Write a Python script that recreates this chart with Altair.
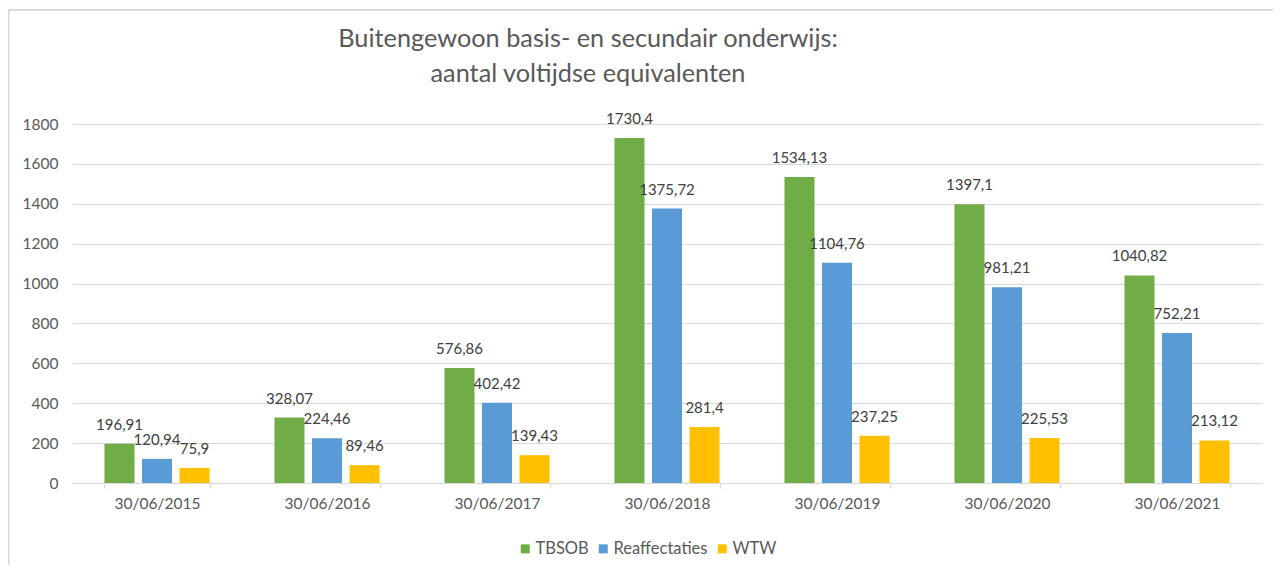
import altair as alt
import pandas as pd

dates = ["30/06/2015", "30/06/2016", "30/06/2017", "30/06/2018",
         "30/06/2019", "30/06/2020", "30/06/2021"]
series = ["TBSOB", "Reaffectaties", "WTW"]
tbsob = [196.91, 328.07, 576.86, 1730.4, 1534.13, 1397.1, 1040.82]
reaff = [120.94, 224.46, 402.42, 1375.72, 1104.76, 981.21, 752.21]
wtw = [75.9, 89.46, 139.43, 281.4, 237.25, 225.53, 213.12]
colors = ["#70AD47", "#5B9BD5", "#FFC000"]
y_ticks = [0, 200, 400, 600, 800, 1000, 1200, 1400, 1600, 1800]
title_lines = ["Buitengewoon basis- en secundair onderwijs:",
               "aantal voltijdse equivalenten"]

rows = []
for i, d in enumerate(dates):
    for s, vals in zip(series, [tbsob, reaff, wtw]):
        v = vals[i]
        rows.append({"date": d, "series": s, "value": v,
                     "label": str(v).replace(".", ",")})
df = pd.DataFrame(rows)

FONT = "Lato"
GRAY = "#595959"

x_enc = alt.X("date:N", sort=dates,
              scale=alt.Scale(paddingInner=0.382, paddingOuter=0.191),
              axis=alt.Axis(title=None, labelAngle=0, tickBand="extent",
                            domainColor="#d9d9d9", domainWidth=1,
                            tickColor="#d9d9d9", tickSize=5,
                            labelPadding=8, labelFontSize=15.5,
                            labelColor=GRAY, labelFont=FONT, grid=False))
xo_enc = alt.XOffset("series:N", sort=series,
                     scale=alt.Scale(paddingInner=0.2, paddingOuter=0))
y_enc = alt.Y("value:Q",
              scale=alt.Scale(domain=[0, 1800], nice=False),
              axis=alt.Axis(values=y_ticks, format="d", labelOverlap=False,
                            title=None, domain=False,
                            ticks=False, gridColor="#d9d9d9", gridWidth=1,
                            labelPadding=14, labelFontSize=15.5,
                            labelColor=GRAY, labelFont=FONT))

base = alt.Chart(df)

bars = base.mark_bar().encode(
    x=x_enc, xOffset=xo_enc, y=y_enc,
    color=alt.Color("series:N", sort=series,
                    scale=alt.Scale(domain=series, range=colors),
                    legend=alt.Legend(title=None, orient="none",
                                      direction="horizontal",
                                      legendX=445, legendY=416.5,
                                      symbolType="square", symbolSize=81,
                                      symbolStrokeWidth=0,
                                      labelFontSize=16.5, labelColor=GRAY,
                                      labelFont=FONT, labelOffset=2,
                                      columnPadding=6, padding=0)),
)

labels = base.mark_text(baseline="middle", align="center", dy=-19,
                        fontSize=15, color="#404040", font=FONT).encode(
    x=x_enc, xOffset=xo_enc, y=y_enc, text="label:N")

border_df = pd.DataFrame({"k": [0]})
left_border = alt.Chart(border_df).mark_rule(color="#d9d9d9", strokeWidth=2).encode(
    x=alt.value(-63.5), y=alt.value(-114), y2=alt.value(449))
top_border = alt.Chart(border_df).mark_rule(color="#d9d9d9", strokeWidth=2).encode(
    x=alt.value(-64.5), x2=alt.value(1209), y=alt.value(-114))

chart = alt.layer(bars, labels, left_border, top_border).properties(
    width=1190, height=359,
    title=alt.TitleParams(text=title_lines, font=FONT, fontSize=25.3,
                          fontWeight="normal", color=GRAY, lineHeight=35,
                          anchor="middle", frame="group", dx=-79,
                          offset=0, dy=78),
    autosize=alt.AutoSizeParams(type="none"),
    padding={"left": 64, "top": 116, "right": 11, "bottom": 82},
).configure(font=FONT).configure_view(stroke=None)

chart.save("out.html", embed_options={"renderer": "svg", "actions": False})
